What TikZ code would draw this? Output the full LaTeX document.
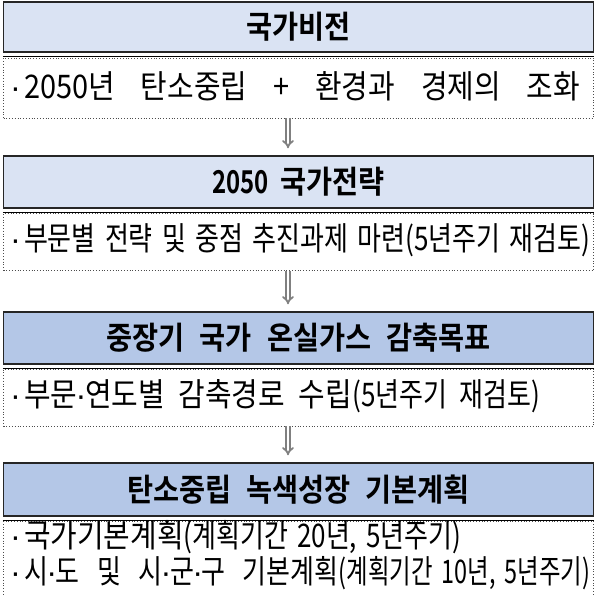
\documentclass[tikz,border=0pt]{standalone}
\usepackage{fontspec}
\usetikzlibrary{arrows.meta}
\newfontfamily\krfont[FakeStretch=0.89]{Noto Sans CJK KR}
\newfontfamily\krslim[FakeStretch=0.8]{Noto Sans CJK KR}
\newfontfamily\krnarrow[FakeStretch=0.8]{Noto Sans CJK KR}
\newfontfamily\krnarrower[FakeStretch=0.72]{Noto Sans CJK KR}
\newfontfamily\krbold[FakeStretch=0.9]{Noto Sans CJK KR Bold}
\newfontfamily\krboldnum[FakeStretch=0.76]{Noto Sans CJK KR Bold}
\newfontfamily\dotfont{Liberation Sans}
\definecolor{headlight}{HTML}{DAE3F3}
\definecolor{headdark}{HTML}{B4C7E7}
\newcommand{\itemdot}{{\dotfont ·}\hspace{3pt}}
\newcommand{\mdot}{\kern-1.5pt{\dotfont ·}\kern-1.5pt}
\newcommand{\gap}{\hspace{9pt}}
\newcommand{\paren}[1]{{\krnarrow #1}}
\tikzset{
  headbox/.style={draw=black!85, line width=1.4pt, minimum width=590pt, inner sep=0pt,
    font=\krbold\fontsize{31.5}{34}\selectfont},
  underline/.style={draw=black, line width=1pt},
  bodybox/.style={draw=black!70, dotted, line width=0.8pt, minimum width=590pt, inner sep=0pt},
  bodytext/.style={anchor=west, inner sep=0pt, font=\krfont\fontsize{32.5}{35}\selectfont},
  slimtext/.style={bodytext, font=\krslim\fontsize{32.5}{35}\selectfont},
  downarrow/.style={draw=gray, double=white, double distance=2pt, line width=1.8pt,
    -{Implies}, shorten >=7pt},
}
\begin{document}
\begin{tikzpicture}[x=1pt,y=-1pt]
    \useasboundingbox (0,0) rectangle (595,596);
    % level 1
    \node[headbox, fill=headlight, minimum height=50pt] (vision) at (298.5,27) {국가비전};
    \draw[underline] ([yshift=-3.5pt]vision.south west) -- ([yshift=-3.5pt]vision.south east);
    \node[bodybox, minimum height=60pt] (visionbody) at (298.5,88) {};
    \node[bodytext] (visiontext) at (10,86) {\makebox[570pt][s]{\itemdot 2050년 탄소중립 + 환경과 경제의 조화}};
    % level 2
    \node[headbox, fill=headlight, minimum height=52pt] (strategy) at (298.5,182) {\makebox[173pt][s]{{\krboldnum 2050} 국가전략}};
    \draw[underline] ([yshift=-3.5pt]strategy.south west) -- ([yshift=-3.5pt]strategy.south east);
    \node[bodybox, minimum height=57pt] (strategybody) at (298.5,242) {};
    \node[slimtext] (strategytext) at (10,240) {\makebox[580pt][s]{\itemdot 부문별 전략 및 중점 추진과제 마련(5년주기 재검토)}};
    % level 3
    \node[headbox, fill=headdark, minimum height=52pt] (target) at (298.5,338) {\makebox[385pt][s]{중장기 국가 온실가스 감축목표}};
    \draw[underline] ([yshift=-3.5pt]target.south west) -- ([yshift=-3.5pt]target.south east);
    \node[bodybox, minimum height=57pt] (targetbody) at (298.5,397.5) {};
    \node[bodytext] (targettext) at (10,396) {\makebox[530pt][s]{\itemdot 부문\mdot 연도별 감축경로 수립\paren{(5년주기 재검토)}}};
    % level 4
    \node[headbox, fill=headdark, minimum height=53pt] (plan) at (298.5,489.5) {\makebox[342pt][s]{탄소중립 녹색성장 기본계획}};
    \draw[underline] ([yshift=-3.5pt]plan.south west) -- ([yshift=-3.5pt]plan.south east);
    \node[bodybox, minimum height=80pt] (planbody) at (298.5,561) {};
    \node[bodytext] (plantexta) at (10,537) {\itemdot 국가기본계획\paren{(계획기간\gap 20년,\gap 5년주기)}};
    \node[slimtext] (plantextb) at (10,573) {\makebox[580pt][s]{\itemdot 시\mdot 도 및 시\mdot 군\mdot 구 기본계획{\krnarrower (계획기간\gap 10년,\gap 5년주기)}}};
    % arrows
    \draw[downarrow] ([xshift=-10.5pt]visionbody.south) -- ([xshift=-10.5pt]strategy.north);
    \draw[downarrow] ([xshift=-10.5pt]strategybody.south) -- ([xshift=-10.5pt]target.north);
    \draw[downarrow] ([xshift=-10.5pt]targetbody.south) -- ([xshift=-10.5pt]plan.north);
\end{tikzpicture}
\end{document}
